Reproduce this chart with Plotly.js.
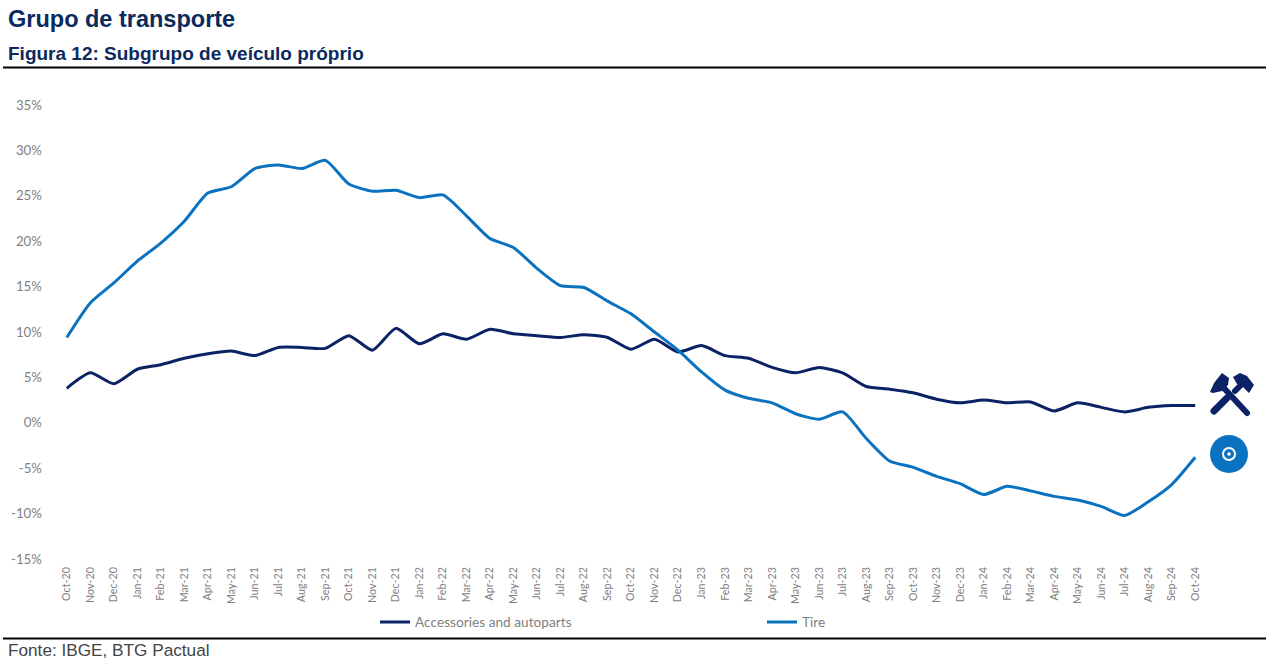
<!DOCTYPE html>
<html>
<head>
<meta charset="utf-8">
<script src="https://cdn.plot.ly/plotly-3.0.1.min.js"></script>
<style>
html,body{margin:0;padding:0;background:#fff;overflow:hidden}
#chart{width:1274px;height:670px;position:relative}
#icons{position:absolute;left:1200px;top:365px;pointer-events:none}
</style>
</head>
<body>
<div id="chart"></div>
<svg id="icons" width="64" height="115" viewBox="1200 365 64 115">
  <g fill="#0b2265" stroke="none">
    <path d="M1210 392 L1214 383 L1222 373 L1229 378 L1228 385 L1222 391 L1213 393 Z"/>
    <path d="M1233 377 L1240 373 L1247 376 L1254 385 L1249 393 L1243 387 L1237 384 Z"/>
  </g>
  <g stroke="#0b2265" stroke-linecap="round" fill="none">
    <path d="M1222 386 L1247 413" stroke-width="6"/>
    <path d="M1214 411 L1227 398" stroke-width="7"/>
    <path d="M1235 391 L1241 385" stroke-width="6"/>
  </g>
  <circle cx="1229" cy="454" r="19" fill="#0b72c0"/>
  <circle cx="1229" cy="454" r="6" fill="none" stroke="#fff" stroke-width="2"/>
  <circle cx="1229" cy="454" r="1.8" fill="#fff"/>
</svg>
<script>
const months = ["Oct-20","Nov-20","Dec-20","Jan-21","Feb-21","Mar-21","Apr-21","May-21","Jun-21","Jul-21","Aug-21","Sep-21","Oct-21","Nov-21","Dec-21","Jan-22","Feb-22","Mar-22","Apr-22","May-22","Jun-22","Jul-22","Aug-22","Sep-22","Oct-22","Nov-22","Dec-22","Jan-23","Feb-23","Mar-23","Apr-23","May-23","Jun-23","Jul-23","Aug-23","Sep-23","Oct-23","Nov-23","Dec-23","Jan-24","Feb-24","Mar-24","Apr-24","May-24","Jun-24","Jul-24","Aug-24","Sep-24","Oct-24"];
const accessories = [3.8,5.5,4.3,5.9,6.4,7.1,7.6,7.9,7.4,8.3,8.3,8.2,9.6,8.0,10.4,8.7,9.8,9.2,10.3,9.8,9.6,9.4,9.7,9.4,8.1,9.2,7.8,8.5,7.4,7.1,6.1,5.5,6.1,5.5,4.0,3.7,3.3,2.6,2.2,2.5,2.2,2.3,1.3,2.2,1.7,1.2,1.7,1.9,1.9];
const tire = [9.4,13.2,15.4,17.8,19.8,22.2,25.3,26.0,28.0,28.4,28.0,28.9,26.3,25.5,25.6,24.8,25.1,22.8,20.3,19.3,17.0,15.1,14.9,13.4,12.0,10.0,8.0,5.6,3.6,2.7,2.2,1.0,0.4,1.2,-1.7,-4.2,-4.9,-5.9,-6.7,-7.9,-7.0,-7.5,-8.1,-8.5,-9.2,-10.2,-8.7,-6.8,-3.8];
const yTicks = [35,30,25,20,15,10,5,0,-5,-10,-15];
const yLabels = yTicks.map(v => v + "%");
const seriesNames = ["Accessories and autoparts","Tire"];

const W = 1274, H = 670, L = 55, R = 67, T = 105, B = 111;
const px = x => (x - L) / (W - L - R);
const py = y => (H - B - y) / (H - T - B);
const axisFont = {family:"Lato, 'Open Sans', sans-serif", color:"#7f7f7f"};
const headFont = "Liberation Sans, Arial, sans-serif";

const traces = [
  {x:months, y:accessories, name:seriesNames[0], type:"scatter", mode:"lines",
   line:{color:"#0b2265", width:3, shape:"spline", smoothing:0.6}},
  {x:months, y:tire, name:seriesNames[1], type:"scatter", mode:"lines",
   line:{color:"#0b72c0", width:3, shape:"spline", smoothing:0.6}}
];
const layout = {
  width:W, height:H, autosize:false,
  margin:{l:L, r:R, t:T, b:B, pad:0},
  paper_bgcolor:"#fff", plot_bgcolor:"#fff",
  showlegend:true,
  legend:{orientation:"h", x:px(375), xanchor:"left", y:py(622), yanchor:"middle",
          entrywidth:342, entrywidthmode:"pixels", itemwidth:30, traceorder:"normal",
          font:{family:axisFont.family, color:"#7f7f7f", size:13.7}, bgcolor:"rgba(0,0,0,0)"},
  xaxis:{type:"category", categoryorder:"array", categoryarray:months, range:[-0.5,48.5],
         tickmode:"array", tickvals:months, ticktext:months, tickangle:-90, ticklabelstandoff:5,
         tickfont:{...axisFont, size:10.7}, showgrid:false, zeroline:false, showline:false, ticks:""},
  yaxis:{range:[-15,35], tickmode:"array", tickvals:yTicks, ticktext:yLabels, ticklabelstandoff:12,
         tickfont:{...axisFont, size:13.3}, showgrid:false, zeroline:false, showline:false, ticks:""},
  annotations:[
    {text:"<b>Grupo de transporte</b>", xref:"paper", yref:"paper", x:px(6), y:py(19), xanchor:"left", yanchor:"middle", showarrow:false,
     font:{family:headFont, size:23.5, color:"#0b2a5e"}},
    {text:"<b>Figura 12: Subgrupo de veículo próprio</b>", xref:"paper", yref:"paper", x:px(6), y:py(54), xanchor:"left", yanchor:"middle", showarrow:false,
     font:{family:headFont, size:19, color:"#0b2a5e"}},
    {text:"Fonte: IBGE, BTG Pactual", xref:"paper", yref:"paper", x:px(6), y:py(650), xanchor:"left", yanchor:"middle", showarrow:false,
     font:{family:headFont, size:17.2, color:"#444444"}}
  ],
  shapes:[
    {type:"line", xref:"paper", yref:"paper", x0:px(3), x1:px(1266), y0:py(67.5), y1:py(67.5), line:{color:"#000", width:2}},
    {type:"line", xref:"paper", yref:"paper", x0:px(3), x1:px(1266), y0:py(638.5), y1:py(638.5), line:{color:"#000", width:2}}
  ]
};
Plotly.newPlot("chart", traces, layout, {displayModeBar:false, staticPlot:true});
</script>
</body>
</html>
